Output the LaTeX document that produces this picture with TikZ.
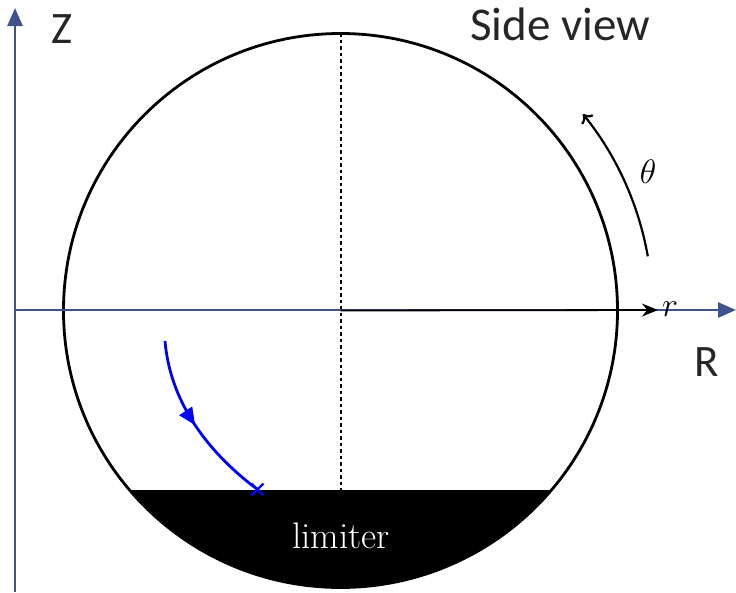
\RequirePackage{fix-cm}
\documentclass[tikz,border=0pt]{standalone}
\usepackage{fontspec}
\newfontfamily\calib{Carlito}
\usetikzlibrary{arrows.meta,decorations.markings}
\definecolor{axisblue}{RGB}{64,82,140}
\tikzset{
  axis/.style={draw=axisblue, line width=2.6pt, -{Triangle[length=18pt,width=15pt]}},
  sanslabel/.style={font=\calib\fontsize{45}{48}\selectfont, text=black!85, inner sep=0pt},
  mathlabel/.style={font=\fontsize{34}{38}\selectfont, inner sep=0pt},
  orbit/.style={draw=blue, line width=2.8pt,
    postaction={decorate, decoration={markings, mark=at position 0.5 with {\arrow{Triangle[length=17pt,width=15pt]}}}}}
}
\begin{document}
\begin{tikzpicture}[x=1pt,y=-1pt]
\useasboundingbox (0,0) rectangle (736,592);
\coordinate (O) at (340.5,310.5);
\coordinate (top) at (340.5,33);
\coordinate (chord) at (340.5,490);
% limiter
\begin{scope}
  \clip (O) circle[radius=277pt];
  \fill[black] (0,490) rectangle (736,600);
\end{scope}
\draw[line width=2.8pt] (O) circle[radius=277pt];
\draw[line width=2pt, dash pattern=on 3.5pt off 3pt] (top) -- (chord);
% axes
\coordinate (zb) at (15,592);
\coordinate (zt) at (15,8);
\coordinate (rl) at (15,310);
\coordinate (rr) at (736,310);
\draw[axis] (zb) -- (zt);
\draw[axis] (rl) -- (rr);
% r arrow
\coordinate (rend) at (658,310);
\draw[line width=1.8pt, -{Stealth[length=16pt,width=13pt]}] (O) -- (rend);
\node[mathlabel] (rlab) at (670,309) {$r$};
% theta arc
\coordinate (ts) at (647.8,256.3);
\draw[line width=2.2pt, -{To[length=8pt,width=15pt]}] (ts) arc[start angle=10, end angle=39, radius=312pt] coordinate (te);
\node[mathlabel] (thlab) at (648,172) {$\theta$};
% labels
\node[sanslabel] (Z) at (62,29) {Z};
\node[sanslabel] (R) at (707,362) {R};
\node[sanslabel, font=\calib\fontsize{47}{50}\selectfont, anchor=west] (sv) at (470,24) {Side view};
\node[text=white, font=\fontsize{37}{40}\selectfont] (lim) at (341,536) {limiter};
% orbit
\coordinate (os) at (165,341);
\coordinate (oe) at (257.5,489.5);
\draw[orbit] (os) .. controls (170,400) and (205,450) .. (oe);
\draw[blue, line width=2.2pt] ([shift={(-6,-6)}]oe) -- ([shift={(6,6)}]oe)
  ([shift={(-6,6)}]oe) -- ([shift={(6,-6)}]oe);
\end{tikzpicture}
\end{document}
